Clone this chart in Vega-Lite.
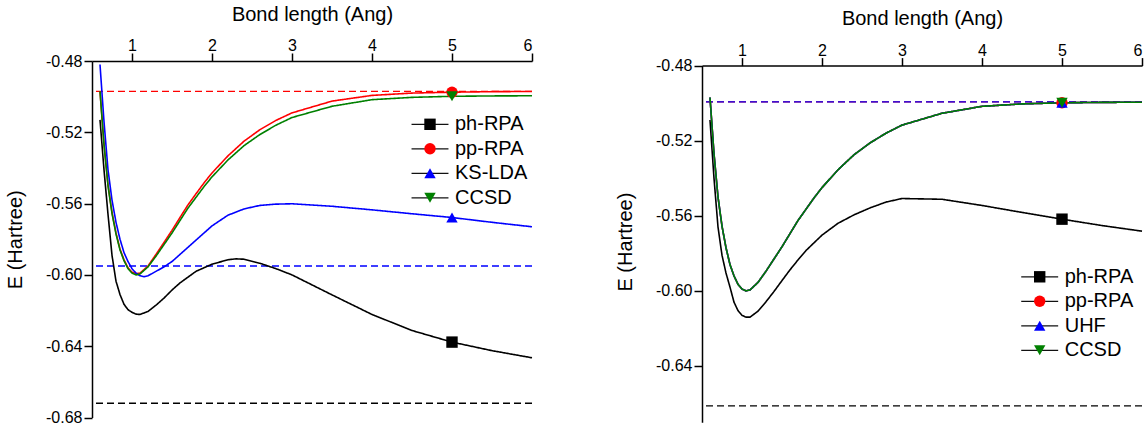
{
  "$schema": "https://vega.github.io/schema/vega-lite/v6.json",
  "background": "white",
  "padding": {"left": 5, "top": 4, "right": 0, "bottom": 0},
  "config": {
    "font": "Liberation Sans",
    "view": {"stroke": null},
    "axis": {"grid": false, "domainColor": "black", "domainWidth": 1.5, "tickColor": "black", "tickWidth": 1.5, "tickSize": 8, "labelColor": "black", "labelFontSize": 16, "labelFont": "Liberation Sans", "titleFont": "Liberation Sans", "titleFontSize": 20, "titleFontWeight": "normal", "titleColor": "black", "labelPadding": 2},
    "legend": {"labelFont": "Liberation Sans", "labelColor": "black"}
  },
  "datasets": {
    "leftLines": [
      {"R":0.6,"E":-0.513,"method":"ph-RPA"},{"R":0.65,"E":-0.541,"method":"ph-RPA"},{"R":0.7,"E":-0.566,"method":"ph-RPA"},{"R":0.75,"E":-0.589,"method":"ph-RPA"},{"R":0.8,"E":-0.6035,"method":"ph-RPA"},{"R":0.85,"E":-0.611,"method":"ph-RPA"},{"R":0.9,"E":-0.6165,"method":"ph-RPA"},{"R":0.95,"E":-0.6195,"method":"ph-RPA"},{"R":1.0,"E":-0.621,"method":"ph-RPA"},{"R":1.05,"E":-0.622,"method":"ph-RPA"},{"R":1.1,"E":-0.6222,"method":"ph-RPA"},{"R":1.2,"E":-0.6205,"method":"ph-RPA"},{"R":1.3,"E":-0.617,"method":"ph-RPA"},{"R":1.4,"E":-0.613,"method":"ph-RPA"},{"R":1.5,"E":-0.6085,"method":"ph-RPA"},{"R":1.6,"E":-0.6045,"method":"ph-RPA"},{"R":1.8,"E":-0.598,"method":"ph-RPA"},{"R":2.0,"E":-0.594,"method":"ph-RPA"},{"R":2.2,"E":-0.5915,"method":"ph-RPA"},{"R":2.3,"E":-0.591,"method":"ph-RPA"},{"R":2.4,"E":-0.5912,"method":"ph-RPA"},{"R":2.6,"E":-0.5935,"method":"ph-RPA"},{"R":2.8,"E":-0.5965,"method":"ph-RPA"},{"R":3.0,"E":-0.6,"method":"ph-RPA"},{"R":3.5,"E":-0.6112,"method":"ph-RPA"},{"R":4.0,"E":-0.6222,"method":"ph-RPA"},{"R":4.5,"E":-0.6312,"method":"ph-RPA"},{"R":5.0,"E":-0.6377,"method":"ph-RPA"},{"R":5.5,"E":-0.6425,"method":"ph-RPA"},{"R":6.0,"E":-0.6465,"method":"ph-RPA"},
      {"R":0.6,"E":-0.497,"method":"pp-RPA"},{"R":0.65,"E":-0.5265,"method":"pp-RPA"},{"R":0.7,"E":-0.5495,"method":"pp-RPA"},{"R":0.75,"E":-0.565,"method":"pp-RPA"},{"R":0.8,"E":-0.5765,"method":"pp-RPA"},{"R":0.85,"E":-0.5855,"method":"pp-RPA"},{"R":0.9,"E":-0.5915,"method":"pp-RPA"},{"R":0.95,"E":-0.596,"method":"pp-RPA"},{"R":1.0,"E":-0.5985,"method":"pp-RPA"},{"R":1.05,"E":-0.5993,"method":"pp-RPA"},{"R":1.1,"E":-0.599,"method":"pp-RPA"},{"R":1.2,"E":-0.595,"method":"pp-RPA"},{"R":1.3,"E":-0.5885,"method":"pp-RPA"},{"R":1.4,"E":-0.5818,"method":"pp-RPA"},{"R":1.5,"E":-0.575,"method":"pp-RPA"},{"R":1.6,"E":-0.5678,"method":"pp-RPA"},{"R":1.7,"E":-0.5607,"method":"pp-RPA"},{"R":1.8,"E":-0.5545,"method":"pp-RPA"},{"R":1.9,"E":-0.5484,"method":"pp-RPA"},{"R":2.0,"E":-0.5428,"method":"pp-RPA"},{"R":2.2,"E":-0.5332,"method":"pp-RPA"},{"R":2.4,"E":-0.525,"method":"pp-RPA"},{"R":2.6,"E":-0.5185,"method":"pp-RPA"},{"R":2.8,"E":-0.5133,"method":"pp-RPA"},{"R":3.0,"E":-0.5091,"method":"pp-RPA"},{"R":3.5,"E":-0.5025,"method":"pp-RPA"},{"R":4.0,"E":-0.4993,"method":"pp-RPA"},{"R":4.5,"E":-0.498,"method":"pp-RPA"},{"R":5.0,"E":-0.4975,"method":"pp-RPA"},{"R":5.5,"E":-0.4972,"method":"pp-RPA"},{"R":6.0,"E":-0.4971,"method":"pp-RPA"},
      {"R":0.6,"E":-0.482,"method":"KS-LDA"},{"R":0.65,"E":-0.514,"method":"KS-LDA"},{"R":0.7,"E":-0.541,"method":"KS-LDA"},{"R":0.75,"E":-0.558,"method":"KS-LDA"},{"R":0.8,"E":-0.5705,"method":"KS-LDA"},{"R":0.85,"E":-0.58,"method":"KS-LDA"},{"R":0.9,"E":-0.5875,"method":"KS-LDA"},{"R":0.95,"E":-0.5925,"method":"KS-LDA"},{"R":1.0,"E":-0.5965,"method":"KS-LDA"},{"R":1.05,"E":-0.599,"method":"KS-LDA"},{"R":1.1,"E":-0.6005,"method":"KS-LDA"},{"R":1.15,"E":-0.601,"method":"KS-LDA"},{"R":1.2,"E":-0.6005,"method":"KS-LDA"},{"R":1.3,"E":-0.598,"method":"KS-LDA"},{"R":1.4,"E":-0.5955,"method":"KS-LDA"},{"R":1.5,"E":-0.5925,"method":"KS-LDA"},{"R":1.6,"E":-0.5885,"method":"KS-LDA"},{"R":1.8,"E":-0.5805,"method":"KS-LDA"},{"R":2.0,"E":-0.5725,"method":"KS-LDA"},{"R":2.2,"E":-0.5665,"method":"KS-LDA"},{"R":2.4,"E":-0.563,"method":"KS-LDA"},{"R":2.6,"E":-0.561,"method":"KS-LDA"},{"R":2.8,"E":-0.5603,"method":"KS-LDA"},{"R":3.0,"E":-0.5601,"method":"KS-LDA"},{"R":3.5,"E":-0.5615,"method":"KS-LDA"},{"R":4.0,"E":-0.5635,"method":"KS-LDA"},{"R":4.5,"E":-0.5657,"method":"KS-LDA"},{"R":5.0,"E":-0.5678,"method":"KS-LDA"},{"R":5.5,"E":-0.5705,"method":"KS-LDA"},{"R":6.0,"E":-0.573,"method":"KS-LDA"},
      {"R":0.6,"E":-0.497,"method":"CCSD"},{"R":0.65,"E":-0.527,"method":"CCSD"},{"R":0.7,"E":-0.55,"method":"CCSD"},{"R":0.75,"E":-0.5655,"method":"CCSD"},{"R":0.8,"E":-0.577,"method":"CCSD"},{"R":0.85,"E":-0.586,"method":"CCSD"},{"R":0.9,"E":-0.592,"method":"CCSD"},{"R":0.95,"E":-0.5965,"method":"CCSD"},{"R":1.0,"E":-0.599,"method":"CCSD"},{"R":1.05,"E":-0.6,"method":"CCSD"},{"R":1.1,"E":-0.5995,"method":"CCSD"},{"R":1.2,"E":-0.5955,"method":"CCSD"},{"R":1.3,"E":-0.5895,"method":"CCSD"},{"R":1.4,"E":-0.583,"method":"CCSD"},{"R":1.5,"E":-0.5765,"method":"CCSD"},{"R":1.6,"E":-0.5695,"method":"CCSD"},{"R":1.7,"E":-0.5625,"method":"CCSD"},{"R":1.8,"E":-0.5565,"method":"CCSD"},{"R":1.9,"E":-0.5505,"method":"CCSD"},{"R":2.0,"E":-0.545,"method":"CCSD"},{"R":2.2,"E":-0.5355,"method":"CCSD"},{"R":2.4,"E":-0.5275,"method":"CCSD"},{"R":2.6,"E":-0.5212,"method":"CCSD"},{"R":2.8,"E":-0.516,"method":"CCSD"},{"R":3.0,"E":-0.5117,"method":"CCSD"},{"R":3.5,"E":-0.5054,"method":"CCSD"},{"R":4.0,"E":-0.5017,"method":"CCSD"},{"R":4.5,"E":-0.5004,"method":"CCSD"},{"R":5.0,"E":-0.4998,"method":"CCSD"},{"R":5.5,"E":-0.4996,"method":"CCSD"},{"R":6.0,"E":-0.4995,"method":"CCSD"}
    ],
    "leftMarks": [
      {"R":5,"E":-0.6377,"method":"ph-RPA"},{"R":5,"E":-0.4975,"method":"pp-RPA"},{"R":5,"E":-0.5678,"method":"KS-LDA"},{"R":5,"E":-0.4998,"method":"CCSD"}
    ],
    "leftLimits": [
      {"E":-0.672,"method":"ph-RPA"},{"E":-0.497,"method":"pp-RPA"},{"E":-0.595,"method":"KS-LDA"}
    ],
    "rightLines": [
      {"R":0.6,"E":-0.509,"method":"ph-RPA"},{"R":0.65,"E":-0.54,"method":"ph-RPA"},{"R":0.7,"E":-0.566,"method":"ph-RPA"},{"R":0.75,"E":-0.581,"method":"ph-RPA"},{"R":0.8,"E":-0.5905,"method":"ph-RPA"},{"R":0.85,"E":-0.598,"method":"ph-RPA"},{"R":0.9,"E":-0.606,"method":"ph-RPA"},{"R":0.95,"E":-0.6105,"method":"ph-RPA"},{"R":1.0,"E":-0.613,"method":"ph-RPA"},{"R":1.05,"E":-0.614,"method":"ph-RPA"},{"R":1.1,"E":-0.614,"method":"ph-RPA"},{"R":1.2,"E":-0.6108,"method":"ph-RPA"},{"R":1.3,"E":-0.6058,"method":"ph-RPA"},{"R":1.4,"E":-0.6003,"method":"ph-RPA"},{"R":1.5,"E":-0.5945,"method":"ph-RPA"},{"R":1.6,"E":-0.5888,"method":"ph-RPA"},{"R":1.7,"E":-0.5835,"method":"ph-RPA"},{"R":1.8,"E":-0.5785,"method":"ph-RPA"},{"R":2.0,"E":-0.5703,"method":"ph-RPA"},{"R":2.2,"E":-0.564,"method":"ph-RPA"},{"R":2.4,"E":-0.5595,"method":"ph-RPA"},{"R":2.6,"E":-0.5558,"method":"ph-RPA"},{"R":2.8,"E":-0.5527,"method":"ph-RPA"},{"R":3.0,"E":-0.5508,"method":"ph-RPA"},{"R":3.5,"E":-0.5512,"method":"ph-RPA"},{"R":4.0,"E":-0.5545,"method":"ph-RPA"},{"R":4.5,"E":-0.5582,"method":"ph-RPA"},{"R":5.0,"E":-0.5618,"method":"ph-RPA"},{"R":5.5,"E":-0.5652,"method":"ph-RPA"},{"R":6.0,"E":-0.5682,"method":"ph-RPA"},
      {"R":0.6,"E":-0.497,"method":"pp-RPA"},{"R":0.65,"E":-0.527,"method":"pp-RPA"},{"R":0.7,"E":-0.55,"method":"pp-RPA"},{"R":0.75,"E":-0.5655,"method":"pp-RPA"},{"R":0.8,"E":-0.577,"method":"pp-RPA"},{"R":0.85,"E":-0.586,"method":"pp-RPA"},{"R":0.9,"E":-0.592,"method":"pp-RPA"},{"R":0.95,"E":-0.5965,"method":"pp-RPA"},{"R":1.0,"E":-0.599,"method":"pp-RPA"},{"R":1.05,"E":-0.6,"method":"pp-RPA"},{"R":1.1,"E":-0.5995,"method":"pp-RPA"},{"R":1.2,"E":-0.5955,"method":"pp-RPA"},{"R":1.3,"E":-0.5895,"method":"pp-RPA"},{"R":1.4,"E":-0.583,"method":"pp-RPA"},{"R":1.5,"E":-0.5765,"method":"pp-RPA"},{"R":1.6,"E":-0.5695,"method":"pp-RPA"},{"R":1.7,"E":-0.5625,"method":"pp-RPA"},{"R":1.8,"E":-0.5565,"method":"pp-RPA"},{"R":1.9,"E":-0.5505,"method":"pp-RPA"},{"R":2.0,"E":-0.545,"method":"pp-RPA"},{"R":2.2,"E":-0.5355,"method":"pp-RPA"},{"R":2.4,"E":-0.5275,"method":"pp-RPA"},{"R":2.6,"E":-0.5212,"method":"pp-RPA"},{"R":2.8,"E":-0.516,"method":"pp-RPA"},{"R":3.0,"E":-0.5117,"method":"pp-RPA"},{"R":3.5,"E":-0.5054,"method":"pp-RPA"},{"R":4.0,"E":-0.5017,"method":"pp-RPA"},{"R":4.5,"E":-0.5004,"method":"pp-RPA"},{"R":5.0,"E":-0.4998,"method":"pp-RPA"},{"R":5.5,"E":-0.4996,"method":"pp-RPA"},{"R":6.0,"E":-0.4995,"method":"pp-RPA"},
      {"R":0.6,"E":-0.497,"method":"UHF"},{"R":0.65,"E":-0.527,"method":"UHF"},{"R":0.7,"E":-0.55,"method":"UHF"},{"R":0.75,"E":-0.5655,"method":"UHF"},{"R":0.8,"E":-0.577,"method":"UHF"},{"R":0.85,"E":-0.586,"method":"UHF"},{"R":0.9,"E":-0.592,"method":"UHF"},{"R":0.95,"E":-0.5965,"method":"UHF"},{"R":1.0,"E":-0.599,"method":"UHF"},{"R":1.05,"E":-0.6,"method":"UHF"},{"R":1.1,"E":-0.5995,"method":"UHF"},{"R":1.2,"E":-0.5955,"method":"UHF"},{"R":1.3,"E":-0.5895,"method":"UHF"},{"R":1.4,"E":-0.583,"method":"UHF"},{"R":1.5,"E":-0.5765,"method":"UHF"},{"R":1.6,"E":-0.5695,"method":"UHF"},{"R":1.7,"E":-0.5625,"method":"UHF"},{"R":1.8,"E":-0.5565,"method":"UHF"},{"R":1.9,"E":-0.5505,"method":"UHF"},{"R":2.0,"E":-0.545,"method":"UHF"},{"R":2.2,"E":-0.5355,"method":"UHF"},{"R":2.4,"E":-0.5275,"method":"UHF"},{"R":2.6,"E":-0.5212,"method":"UHF"},{"R":2.8,"E":-0.516,"method":"UHF"},{"R":3.0,"E":-0.5117,"method":"UHF"},{"R":3.5,"E":-0.5054,"method":"UHF"},{"R":4.0,"E":-0.5017,"method":"UHF"},{"R":4.5,"E":-0.5004,"method":"UHF"},{"R":5.0,"E":-0.4998,"method":"UHF"},{"R":5.5,"E":-0.4996,"method":"UHF"},{"R":6.0,"E":-0.4995,"method":"UHF"},
      {"R":0.6,"E":-0.497,"method":"CCSD"},{"R":0.65,"E":-0.527,"method":"CCSD"},{"R":0.7,"E":-0.55,"method":"CCSD"},{"R":0.75,"E":-0.5655,"method":"CCSD"},{"R":0.8,"E":-0.577,"method":"CCSD"},{"R":0.85,"E":-0.586,"method":"CCSD"},{"R":0.9,"E":-0.592,"method":"CCSD"},{"R":0.95,"E":-0.5965,"method":"CCSD"},{"R":1.0,"E":-0.599,"method":"CCSD"},{"R":1.05,"E":-0.6,"method":"CCSD"},{"R":1.1,"E":-0.5995,"method":"CCSD"},{"R":1.2,"E":-0.5955,"method":"CCSD"},{"R":1.3,"E":-0.5895,"method":"CCSD"},{"R":1.4,"E":-0.583,"method":"CCSD"},{"R":1.5,"E":-0.5765,"method":"CCSD"},{"R":1.6,"E":-0.5695,"method":"CCSD"},{"R":1.7,"E":-0.5625,"method":"CCSD"},{"R":1.8,"E":-0.5565,"method":"CCSD"},{"R":1.9,"E":-0.5505,"method":"CCSD"},{"R":2.0,"E":-0.545,"method":"CCSD"},{"R":2.2,"E":-0.5355,"method":"CCSD"},{"R":2.4,"E":-0.5275,"method":"CCSD"},{"R":2.6,"E":-0.5212,"method":"CCSD"},{"R":2.8,"E":-0.516,"method":"CCSD"},{"R":3.0,"E":-0.5117,"method":"CCSD"},{"R":3.5,"E":-0.5054,"method":"CCSD"},{"R":4.0,"E":-0.5017,"method":"CCSD"},{"R":4.5,"E":-0.5004,"method":"CCSD"},{"R":5.0,"E":-0.4998,"method":"CCSD"},{"R":5.5,"E":-0.4996,"method":"CCSD"},{"R":6.0,"E":-0.4995,"method":"CCSD"}
    ],
    "rightMarks": [
      {"R":5,"E":-0.5618,"method":"ph-RPA"},{"R":5,"E":-0.4998,"method":"pp-RPA"},{"R":5,"E":-0.4998,"method":"UHF"},{"R":5,"E":-0.4998,"method":"CCSD"}
    ],
    "rightLimits": [
      {"E":-0.6612,"method":"ph-RPA"},{"E":-0.4993,"method":"pp-RPA"},{"E":-0.4993,"method":"UHF"}
    ]
  },
  "spacing": 79,
  "resolve": {
    "scale": {"color": "independent", "fill": "independent", "shape": "independent", "stroke": "independent", "strokeDash": "independent"},
    "legend": {"color": "independent", "fill": "independent", "shape": "independent", "strokeDash": "independent"}
  },
  "hconcat": [
    {
      "width": 440,
      "height": 356.5,
      "layer": [
        {
          "data": {"name": "leftLimits"},
          "mark": {"type": "rule", "strokeDash": [7, 4], "strokeWidth": 1.3},
          "encoding": {
            "y": {"field": "E", "type": "quantitative", "title": "E (Hartree)", "scale": {"domain": [-0.68, -0.48], "nice": false, "zero": false}, "axis": {"orient": "left", "values": [-0.68, -0.64, -0.6, -0.56, -0.52, -0.48], "labelExpr": "replace(format(datum.value, '.2f'), '\u2212', '-')", "title": "E (Hartree)", "titlePadding": 20}},
            "stroke": {"field": "method", "type": "nominal", "scale": {"domain": ["ph-RPA", "pp-RPA", "KS-LDA"], "range": ["#000000", "#ff0000", "#0000ff"]}, "legend": null}
          }
        },
        {
          "data": {"name": "leftLines"},
          "mark": {"type": "line", "strokeWidth": 1.6},
          "encoding": {
            "x": {"field": "R", "type": "quantitative", "title": "Bond length (Ang)", "scale": {"domain": [0.5, 6], "nice": false, "zero": false}, "axis": {"orient": "top", "values": [1, 2, 3, 4, 5, 6], "format": "d", "title": "Bond length (Ang)", "titlePadding": 13.5, "labelPadding": -0.7}},
            "y": {"field": "E", "type": "quantitative", "title": "E (Hartree)", "scale": {"domain": [-0.68, -0.48], "nice": false, "zero": false}, "axis": {"orient": "left", "values": [-0.68, -0.64, -0.6, -0.56, -0.52, -0.48], "labelExpr": "replace(format(datum.value, '.2f'), '\u2212', '-')", "title": "E (Hartree)", "titlePadding": 20}},
            "color": {"field": "method", "type": "nominal", "sort": ["ph-RPA", "pp-RPA", "KS-LDA", "CCSD"], "scale": {"range": ["#000000", "#ff0000", "#0000ff", "#008000"]}, "legend": null},
            "strokeDash": {"field": "method", "type": "nominal", "sort": ["ph-RPA", "pp-RPA", "KS-LDA", "CCSD"], "scale": {"range": [[1, 0], [1, 0], [1, 0], [1, 0]]}, "legend": {"orient": "none", "legendX": 328, "legendY": 53.3, "title": null, "padding": 0, "symbolType": "M-3.24,0H3.24", "symbolSize": 130, "labelOffset": 15, "rowPadding": 4.5, "labelFontSize": 20, "labelOpacity": 0, "symbolStrokeColor": "#111111", "symbolStrokeWidth": 1.3, "symbolFillColor": "transparent"}}
          }
        },
        {
          "data": {"name": "leftMarks"},
          "mark": {"type": "point", "filled": true, "opacity": 1, "size": 130, "strokeWidth": 0},
          "encoding": {
            "x": {"field": "R", "type": "quantitative", "title": "Bond length (Ang)", "scale": {"domain": [0.5, 6], "nice": false, "zero": false}},
            "y": {"field": "E", "type": "quantitative", "title": "E (Hartree)", "scale": {"domain": [-0.68, -0.48], "nice": false, "zero": false}},
            "fill": {"field": "method", "type": "nominal", "scale": {"domain": ["ph-RPA", "pp-RPA", "KS-LDA", "CCSD"], "range": ["#000000", "#ff0000", "#0000ff", "#008000"]}, "legend": {"orient": "none", "legendX": 328, "legendY": 53.3, "title": null, "padding": 0, "symbolSize": 130, "labelOffset": 15, "rowPadding": 4.5, "labelFontSize": 20, "symbolStrokeWidth": 0, "symbolOpacity": 1}},
            "shape": {"field": "method", "type": "nominal", "scale": {"domain": ["ph-RPA", "pp-RPA", "KS-LDA", "CCSD"], "range": ["square", "circle", "triangle-up", "triangle-down"]}, "legend": {"orient": "none", "legendX": 328, "legendY": 53.3, "title": null, "padding": 0, "symbolSize": 130, "labelOffset": 15, "rowPadding": 4.5, "labelFontSize": 20, "symbolStrokeWidth": 0, "symbolOpacity": 1}}
          }
        }
      ]
    },
    {
      "width": 440,
      "height": 361.3,
      "layer": [
        {
          "data": {"name": "rightLimits"},
          "mark": {"type": "rule", "strokeDash": [7, 4], "strokeWidth": 1.3},
          "encoding": {
            "y": {"field": "E", "type": "quantitative", "title": "E (Hartree)", "scale": {"domain": [-0.67, -0.47755], "nice": false, "zero": false}, "axis": {"orient": "left", "values": [-0.64, -0.6, -0.56, -0.52, -0.48], "labelExpr": "replace(format(datum.value, '.2f'), '\u2212', '-')", "title": "E (Hartree)", "titlePadding": 20, "domainDash": [356.7, 20]}},
            "stroke": {"field": "method", "type": "nominal", "scale": {"domain": ["ph-RPA", "pp-RPA", "UHF"], "range": ["#000000", "#ff0000", "#0000ff"]}, "legend": null}
          }
        },
        {
          "data": {"name": "rightLines"},
          "mark": {"type": "line", "strokeWidth": 1.6},
          "encoding": {
            "x": {"field": "R", "type": "quantitative", "title": "Bond length (Ang)", "scale": {"domain": [0.5, 6], "nice": false, "zero": false}, "axis": {"orient": "top", "values": [1, 2, 3, 4, 5, 6], "format": "d", "title": "Bond length (Ang)", "titlePadding": 13.5, "labelPadding": -0.7, "offset": -4.6}},
            "y": {"field": "E", "type": "quantitative", "title": "E (Hartree)", "scale": {"domain": [-0.67, -0.47755], "nice": false, "zero": false}, "axis": {"orient": "left", "values": [-0.64, -0.6, -0.56, -0.52, -0.48], "labelExpr": "replace(format(datum.value, '.2f'), '\u2212', '-')", "title": "E (Hartree)", "titlePadding": 20, "domainDash": [356.7, 20]}},
            "color": {"field": "method", "type": "nominal", "sort": ["ph-RPA", "pp-RPA", "UHF", "CCSD"], "scale": {"range": ["#000000", "#ff0000", "#0000ff", "#008000"]}, "legend": null},
            "strokeDash": {"field": "method", "type": "nominal", "sort": ["ph-RPA", "pp-RPA", "UHF", "CCSD"], "scale": {"range": [[1, 0], [1, 0], [1, 0], [1, 0]]}, "legend": {"orient": "none", "legendX": 327.7, "legendY": 205.8, "title": null, "padding": 0, "symbolType": "M-3.24,0H3.24", "symbolSize": 130, "labelOffset": 15, "rowPadding": 4.5, "labelFontSize": 20, "labelOpacity": 0, "symbolStrokeColor": "#111111", "symbolStrokeWidth": 1.3, "symbolFillColor": "transparent"}}
          }
        },
        {
          "data": {"name": "rightMarks"},
          "mark": {"type": "point", "filled": true, "opacity": 1, "size": 130, "strokeWidth": 0},
          "encoding": {
            "x": {"field": "R", "type": "quantitative", "title": "Bond length (Ang)", "scale": {"domain": [0.5, 6], "nice": false, "zero": false}},
            "y": {"field": "E", "type": "quantitative", "title": "E (Hartree)", "scale": {"domain": [-0.67, -0.47755], "nice": false, "zero": false}},
            "fill": {"field": "method", "type": "nominal", "scale": {"domain": ["ph-RPA", "pp-RPA", "UHF", "CCSD"], "range": ["#000000", "#ff0000", "#0000ff", "#008000"]}, "legend": {"orient": "none", "legendX": 327.7, "legendY": 205.8, "title": null, "padding": 0, "symbolSize": 130, "labelOffset": 15, "rowPadding": 4.5, "labelFontSize": 20, "symbolStrokeWidth": 0, "symbolOpacity": 1}},
            "shape": {"field": "method", "type": "nominal", "scale": {"domain": ["ph-RPA", "pp-RPA", "UHF", "CCSD"], "range": ["square", "circle", "triangle-up", "triangle-down"]}, "legend": {"orient": "none", "legendX": 327.7, "legendY": 205.8, "title": null, "padding": 0, "symbolSize": 130, "labelOffset": 15, "rowPadding": 4.5, "labelFontSize": 20, "symbolStrokeWidth": 0, "symbolOpacity": 1}}
          }
        }
      ]
    }
  ]
}
